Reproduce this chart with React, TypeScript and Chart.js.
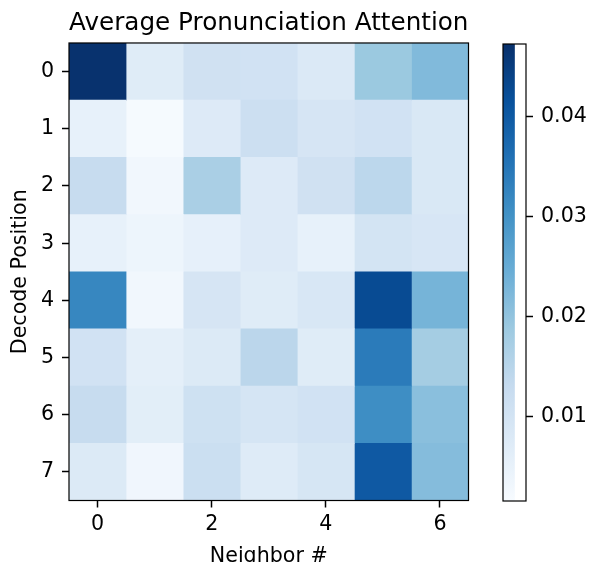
import React, { useEffect, useRef } from "react";
import { Chart, registerables } from "chart.js";

Chart.register(...registerables);

// ---------- data ----------
const rowLabels = ["0", "1", "2", "3", "4", "5", "6", "7"];
const neighborIndex = [0, 1, 2, 3, 4, 5, 6];
const xTickValues = [0, 2, 4, 6];
const colorbarTicks = [0.01, 0.02, 0.03, 0.04];
const vMin = 0.0016;
const vMax = 0.0472;

const row0 = [0.0468, 0.0071, 0.0107, 0.0105, 0.008, 0.019, 0.0219];
const row1 = [0.0053, 0.002, 0.0075, 0.0116, 0.0093, 0.0105, 0.0084];
const row2 = [0.0128, 0.003, 0.017, 0.0075, 0.0107, 0.0144, 0.0084];
const row3 = [0.0053, 0.0039, 0.0055, 0.0075, 0.0053, 0.0098, 0.009];
const row4 = [0.032, 0.003, 0.0093, 0.007, 0.0088, 0.0426, 0.0232];
const row5 = [0.0105, 0.006, 0.0077, 0.0146, 0.007, 0.034, 0.0177];
const row6 = [0.0128, 0.0063, 0.011, 0.0095, 0.0105, 0.0308, 0.0209];
const row7 = [0.0077, 0.0033, 0.0117, 0.0073, 0.0092, 0.04, 0.0215];
const attention = [row0, row1, row2, row3, row4, row5, row6, row7];

// matplotlib "Blues" anchors
const BLUES = [
  "#f7fbff", "#deebf7", "#c6dbef", "#9ecae1", "#6baed6",
  "#4292c6", "#2171b5", "#08519c", "#08306b",
];

const FONT = "'DejaVu Sans', sans-serif";
const TICK_SIZE = 20.6;
const TITLE_SIZE = 24.9;

function hexToRgb(h: string) {
  const n = parseInt(h.slice(1), 16);
  return [(n >> 16) & 255, (n >> 8) & 255, n & 255];
}

function blues(v: number) {
  let t = (v - vMin) / (vMax - vMin);
  t = Math.max(0, Math.min(1, t));
  const seg = t * (BLUES.length - 1);
  const i = Math.min(Math.floor(seg), BLUES.length - 2);
  const f = seg - i;
  const a = hexToRgb(BLUES[i]);
  const b = hexToRgb(BLUES[i + 1]);
  const c = a.map((x, k) => Math.round(x + (b[k] - x) * f));
  return `rgb(${c[0]},${c[1]},${c[2]})`;
}

const framePlugin = {
  id: "frame",
  afterDatasetsDraw(chart: any) {
    const { ctx, chartArea } = chart;
    ctx.save();
    ctx.strokeStyle = "#000";
    ctx.lineWidth = 1.2;
    ctx.strokeRect(chartArea.left, chartArea.top, chartArea.right - chartArea.left, chartArea.bottom - chartArea.top);
    ctx.restore();
  },
};

export default function App() {
  const mainRef = useRef<HTMLCanvasElement>(null);
  const cbRef = useRef<HTMLCanvasElement>(null);

  useEffect(() => {
    Chart.defaults.font.family = FONT;
    Chart.defaults.color = "#000";

    const datasets = neighborIndex.map((c) => ({
      label: String(c),
      data: rowLabels.map(() => [c - 0.5, c + 0.5]),
      backgroundColor: rowLabels.map((_, r) => blues(attention[r][c])),
      borderWidth: 0,
      barPercentage: 1,
      categoryPercentage: 1,
      grouped: false,
    }));

    const main = new Chart(mainRef.current!, {
      type: "bar",
      data: { labels: rowLabels, datasets: datasets as any },
      plugins: [framePlugin],
      options: {
        indexAxis: "y",
        animation: false,
        responsive: false,
        layout: { padding: { left: 0, top: 0, right: 120.5, bottom: 0 } },
        plugins: {
          legend: { display: false },
          tooltip: { enabled: false },
          title: {
            display: true,
            text: "Average Pronunciation Attention",
            fullSize: false,
            color: "#000",
            font: { family: FONT, size: TITLE_SIZE, weight: "normal" },
            padding: { top: 8.7, bottom: 4.4 },
          },
        },
        scales: {
          x: {
            type: "linear",
            min: -0.5,
            max: 6.5,
            afterBuildTicks: (s: any) => {
              s.ticks = xTickValues.map((v) => ({ value: v }));
            },
            afterFit: (s: any) => {
              s.height = 61.5;
            },
            grid: { drawOnChartArea: false, drawTicks: true, tickLength: 7, tickWidth: 1.5, tickColor: "#000" },
            border: { display: false },
            ticks: { color: "#000", font: { family: FONT, size: TICK_SIZE }, padding: 5, callback: (v: any) => String(v), maxRotation: 0 },
            title: {
              display: true,
              text: "Neighbor #",
              color: "#000",
              font: { family: FONT, size: TICK_SIZE },
              padding: { top: 0, bottom: -7.3 },
            },
          },
          y: {
            type: "category",
            offset: true,
            afterFit: (s: any) => {
              s.width = 69;
            },
            grid: { drawOnChartArea: false, drawTicks: true, tickLength: 7, tickWidth: 1.5, tickColor: "#000", offset: false },
            border: { display: false },
            ticks: { color: "#000", font: { family: FONT, size: TICK_SIZE }, padding: 8, autoSkip: false },
            title: {
              display: true,
              text: "Decode Position",
              color: "#000",
              font: { family: FONT, size: TICK_SIZE },
              padding: { top: 8.3, bottom: 0 },
            },
          },
        },
      } as any,
    });

    const cb = new Chart(cbRef.current!, {
      type: "bar",
      data: {
        labels: ["colorbar"],
        datasets: [
          {
            data: [[vMin, vMax]],
            barPercentage: 1,
            categoryPercentage: 1,
            borderWidth: 0,
            backgroundColor: (ctx: any) => {
              const { chart } = ctx;
              const area = chart.chartArea;
              if (!area) return BLUES[4];
              const g = chart.ctx.createLinearGradient(0, area.bottom, 0, area.top);
              BLUES.forEach((col, i) => g.addColorStop(i / (BLUES.length - 1), col));
              return g;
            },
          },
        ] as any,
      },
      plugins: [framePlugin],
      options: {
        animation: false,
        responsive: false,
        layout: { padding: { left: 503, top: 44, right: 0, bottom: 61 } },
        plugins: { legend: { display: false }, tooltip: { enabled: false }, title: { display: false } },
        scales: {
          x: { type: "category", display: false, offset: false },
          y: {
            type: "linear",
            position: "right",
            min: vMin,
            max: vMax,
            afterBuildTicks: (s: any) => {
              s.ticks = colorbarTicks.map((v) => ({ value: v }));
            },
            afterFit: (s: any) => {
              s.width = 63;
            },
            grid: { drawOnChartArea: false, drawTicks: true, tickLength: 7, tickWidth: 1.5, tickColor: "#000" },
            border: { display: false },
            ticks: { color: "#000", font: { family: FONT, size: TICK_SIZE }, padding: 8, callback: (v: any) => Number(v).toFixed(2) },
          },
        },
      } as any,
    });

    return () => {
      main.destroy();
      cb.destroy();
    };
  }, []);

  return (
    <div style={{ position: "fixed", left: 0, top: 0, width: 589, height: 562, background: "#fff", overflow: "hidden" }}>
      <canvas ref={mainRef} width={589} height={562} style={{ position: "absolute", left: 0, top: 0 }} />
      <canvas ref={cbRef} width={589} height={562} style={{ position: "absolute", left: 0, top: 0 }} />
    </div>
  );
}
